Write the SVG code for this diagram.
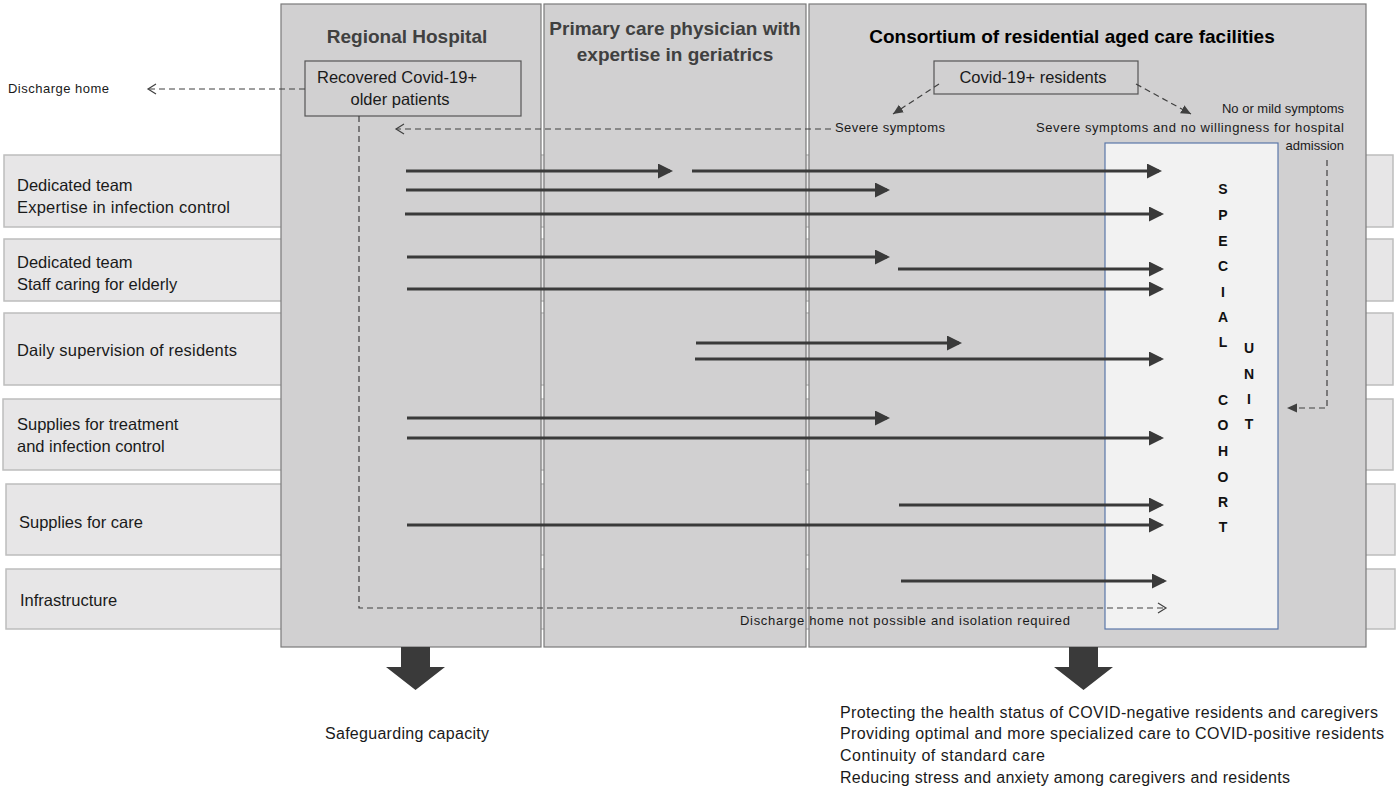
<svg xmlns="http://www.w3.org/2000/svg" width="1398" height="793" viewBox="0 0 1398 793">
<defs>
<style>
.row{fill:#e7e6e7;stroke:#bdbdbd;stroke-width:1.5}
.col{fill:#d1d0d1;stroke:#7a7a7a;stroke-width:1.2}
.t{font-family:"Liberation Sans",Arial,sans-serif;fill:#1a1a1a}
.rt{font-size:16.5px}
.bt{font-size:16px}
.hd{font-size:19px;font-weight:bold;fill:#404040}
.sm{font-size:13px}
.lt{font-family:"Liberation Sans",Arial,sans-serif;font-size:14px;font-weight:bold;fill:#111;text-anchor:middle}
.ar{stroke:#3a3a3a;stroke-width:3;fill:none;marker-end:url(#ah)}
.ds{stroke:#404040;stroke-width:1.2;stroke-dasharray:6 4;fill:none}
</style>
<marker id="ah" markerWidth="5" markerHeight="5" refX="4" refY="2.5" orient="auto" markerUnits="strokeWidth">
<path d="M0,0 L5,2.5 L0,5 Z" fill="#3a3a3a"/>
</marker>
<marker id="op" markerWidth="12" markerHeight="12" refX="10" refY="6" orient="auto" markerUnits="userSpaceOnUse">
<path d="M2,1 L10,6 L2,11" fill="none" stroke="#404040" stroke-width="1.2"/>
</marker>
<marker id="fl" markerWidth="12" markerHeight="12" refX="10" refY="6" orient="auto" markerUnits="userSpaceOnUse">
<path d="M0,1.5 L10,6 L0,10.5 Z" fill="#404040"/>
</marker>
</defs>
<rect width="1398" height="793" fill="#ffffff"/>

<g id="rows">
<rect class="row" x="4" y="155" width="1389" height="72"/>
<rect class="row" x="4" y="239" width="1389" height="62"/>
<rect class="row" x="4" y="313" width="1389" height="72"/>
<rect class="row" x="3" y="399" width="1390" height="71"/>
<rect class="row" x="6" y="484" width="1389" height="71"/>
<rect class="row" x="6" y="569" width="1389" height="60"/>
</g>

<g id="columns">
<rect id="col-hospital" class="col" x="281" y="4" width="260" height="643"/>
<rect id="col-physician" class="col" x="544" y="4" width="262" height="643"/>
<rect id="col-consortium" class="col" x="809" y="4" width="557" height="643"/>
</g>

<g id="row-labels">
<text class="t rt" x="17" y="191">Dedicated team</text>
<text class="t rt" x="17" y="213" textLength="213">Expertise in infection control</text>
<text class="t rt" x="17" y="268">Dedicated team</text>
<text class="t rt" x="17" y="290">Staff caring for elderly</text>
<text class="t rt" x="17" y="356" textLength="220">Daily supervision of residents</text>
<text class="t rt" x="17" y="430">Supplies for treatment</text>
<text class="t rt" x="17" y="452">and infection control</text>
<text class="t rt" x="19" y="528">Supplies for care</text>
<text class="t rt" x="20" y="606">Infrastructure</text>
</g>

<g id="headers">
<text class="t hd" x="407" y="43" text-anchor="middle">Regional Hospital</text>
<text class="t hd" x="675" y="35" text-anchor="middle">Primary care physician with</text>
<text class="t hd" x="675" y="61" text-anchor="middle">expertise in geriatrics</text>
<text class="t hd" x="1072" y="43" text-anchor="middle" style="fill:#000">Consortium of residential aged care facilities</text>
</g>

<g id="special-unit">
<rect x="1105" y="143" width="173" height="486" fill="#f2f2f2" stroke="#5a77a8" stroke-width="1.2"/>
<text class="lt" x="1223" y="194">S</text>
<text class="lt" x="1223" y="220">P</text>
<text class="lt" x="1223" y="246">E</text>
<text class="lt" x="1223" y="271">C</text>
<text class="lt" x="1223" y="297">I</text>
<text class="lt" x="1223" y="322">A</text>
<text class="lt" x="1223" y="347">L</text>
<text class="lt" x="1223" y="405">C</text>
<text class="lt" x="1223" y="430">O</text>
<text class="lt" x="1223" y="456">H</text>
<text class="lt" x="1223" y="482">O</text>
<text class="lt" x="1223" y="507">R</text>
<text class="lt" x="1223" y="532">T</text>
<text class="lt" x="1249" y="353">U</text>
<text class="lt" x="1249" y="379">N</text>
<text class="lt" x="1249" y="404">I</text>
<text class="lt" x="1249" y="429">T</text>
</g>

<g id="recovered">
<rect x="305" y="61" width="216" height="55" fill="#d1d0d1" stroke="#555" stroke-width="1.2"/>
<text class="t rt" x="397" y="83" text-anchor="middle">Recovered Covid-19+</text>
<text class="t rt" x="400" y="105" text-anchor="middle">older patients</text>
</g>

<g id="covid-residents">
<rect x="934" y="61" width="204" height="33" fill="#d1d0d1" stroke="#555" stroke-width="1.2"/>
<text class="t rt" x="1033" y="83" text-anchor="middle">Covid-19+ residents</text>
</g>

<g id="labels">
<text class="t sm" x="8" y="93" textLength="101">Discharge home</text>
<text class="t sm" x="835" y="132" textLength="110">Severe  symptoms</text>
<text class="t sm" x="1344" y="113" text-anchor="end">No or mild symptoms</text>
<text class="t sm" x="1036" y="132" textLength="308">Severe  symptoms and no willingness for hospital</text>
<text class="t sm" x="1344" y="150" text-anchor="end">admission</text>
<text class="t sm" x="740" y="625" textLength="330">Discharge  home not possible and isolation required</text>
</g>

<g id="connectors">
<line class="ds" x1="305" y1="89" x2="148" y2="89" marker-end="url(#op)"/>
<line class="ds" x1="831" y1="129" x2="396" y2="129" marker-end="url(#op)"/>
<line class="ds" x1="939" y1="84" x2="893" y2="114" marker-end="url(#fl)"/>
<line class="ds" x1="1136" y1="84" x2="1191" y2="114" marker-end="url(#fl)"/>
<polyline class="ds" points="1327,160 1327,408 1287,408" marker-end="url(#fl)"/>
<polyline class="ds" points="359,116 359,608 1166,608" marker-end="url(#op)"/>

<line class="ar" x1="406" y1="171" x2="670" y2="171"/>
<line class="ar" x1="692" y1="171" x2="1159" y2="171"/>
<line class="ar" x1="406" y1="190" x2="887" y2="190"/>
<line class="ar" x1="405" y1="214" x2="1161" y2="214"/>
<line class="ar" x1="407" y1="257" x2="887" y2="257"/>
<line class="ar" x1="898" y1="269" x2="1161" y2="269"/>
<line class="ar" x1="407" y1="289" x2="1161" y2="289"/>
<line class="ar" x1="696" y1="343" x2="959" y2="343"/>
<line class="ar" x1="695" y1="359" x2="1161" y2="359"/>
<line class="ar" x1="407" y1="418" x2="887" y2="418"/>
<line class="ar" x1="407" y1="438" x2="1161" y2="438"/>
<line class="ar" x1="899" y1="505" x2="1161" y2="505"/>
<line class="ar" x1="407" y1="525" x2="1161" y2="525"/>
<line class="ar" x1="901" y1="581" x2="1164" y2="581"/>
</g>

<g id="outcome-arrows">
<path d="M401,647 L430,647 L430,667 L445,667 L415.5,690 L386,667 L401,667 Z" fill="#3a3a3a"/>
<path d="M1069,647 L1098,647 L1098,667 L1113,667 L1083.5,690 L1054,667 L1069,667 Z" fill="#3a3a3a"/>
</g>

<g id="outcomes">
<text class="t bt" x="325" y="739" textLength="164">Safeguarding capacity</text>
<text class="t bt" x="840" y="718" textLength="538">Protecting the health status of COVID-negative residents and caregivers</text>
<text class="t bt" x="840" y="739" textLength="544">Providing optimal  and more specialized care to COVID-positive residents</text>
<text class="t bt" x="840" y="761" textLength="205">Continuity of standard care</text>
<text class="t bt" x="840" y="783" textLength="450">Reducing stress and anxiety among caregivers and residents</text>
</g>
</svg>
